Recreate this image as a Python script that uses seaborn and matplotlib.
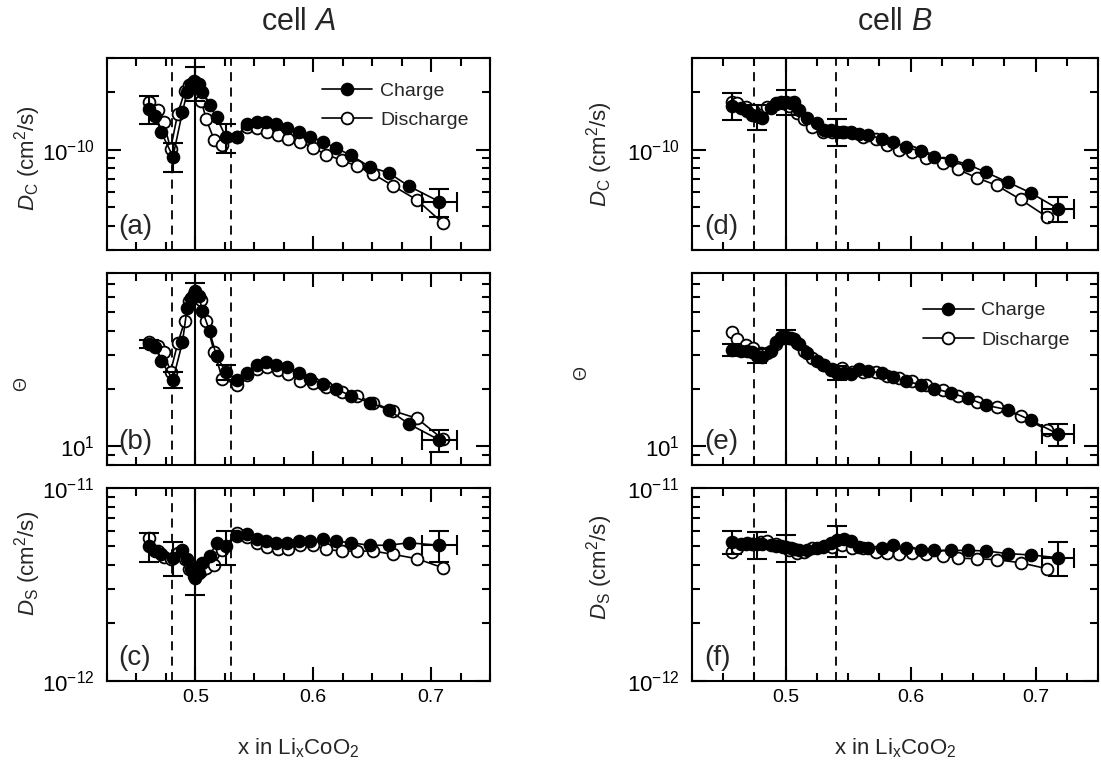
import numpy as np
import matplotlib
matplotlib.use("Agg")
import matplotlib.pyplot as plt
import matplotlib.ticker as mticker
import seaborn as sns

# --- DATA (LixCoO2) ---
# cell A
XA_CH = [0.461, 0.466, 0.471, 0.481, 0.489, 0.493, 0.496, 0.500, 0.503, 0.506,
         0.512, 0.518, 0.526, 0.535, 0.544, 0.552, 0.560, 0.568, 0.578, 0.588,
         0.597, 0.608, 0.619, 0.632, 0.648, 0.664, 0.681, 0.707]
DC_A_CH = [1.63, 1.49, 1.23, 0.92, 1.57, 1.99, 2.19, 2.24, 2.19, 1.99,
           1.70, 1.47, 1.16, 1.17, 1.36, 1.40, 1.40, 1.36, 1.29, 1.24,
           1.17, 1.10, 1.02, 0.935, 0.813, 0.757, 0.646, 0.536]          # x1e-10
TH_A_CH = [34.2, 33.0, 27.8, 22.3, 34.8, 52.8, 59.5, 64.4, 60.7, 50.8,
           40.0, 29.4, 24.4, 22.1, 24.2, 26.7, 27.5, 26.7, 25.9, 24.2,
           22.5, 21.1, 20.0, 18.3, 16.9, 15.5, 13.1, 10.8]
DS_A_CH = [5.00, 4.71, 4.53, 4.35, 4.76, 4.30, 3.80, 3.43, 3.64, 4.10,
           4.44, 5.20, 5.00, 5.64, 5.75, 5.41, 5.31, 5.20, 5.20, 5.31,
           5.31, 5.46, 5.31, 5.20, 5.05, 5.05, 5.20, 5.05]                # x1e-12

XA_DIS = [0.461, 0.468, 0.473, 0.479, 0.485, 0.491, 0.495, 0.499, 0.505, 0.509,
          0.516, 0.523, 0.535, 0.544, 0.552, 0.561, 0.570, 0.579, 0.589, 0.600,
          0.611, 0.624, 0.637, 0.651, 0.668, 0.688, 0.710]
DC_A_DIS = [1.76, 1.61, 1.39, 1.01, 1.54, 2.01, 2.18, 2.27, 1.80, 1.45,
            1.12, 1.06, 1.17, 1.31, 1.29, 1.24, 1.19, 1.14, 1.10, 1.02,
            0.942, 0.881, 0.820, 0.745, 0.646, 0.547, 0.414]
TH_A_DIS = [35.0, 33.5, 31.0, 24.5, 34.5, 45.0, 57.0, 62.0, 58.0, 45.0,
            31.0, 22.5, 21.0, 23.5, 25.4, 25.9, 25.1, 23.9, 21.9, 21.3,
            20.5, 19.3, 18.3, 16.9, 15.3, 14.0, 10.9]
DS_A_DIS = [5.52, 4.70, 4.40, 4.30, 4.60, 4.30, 3.80, 3.50, 3.70, 3.85,
            4.00, 4.80, 5.86, 5.60, 5.20, 4.97, 4.84, 4.84, 5.05, 5.05,
            4.81, 4.71, 4.71, 4.71, 4.53, 4.30, 3.86]

# cell B
XB_CH = [0.457, 0.464, 0.469, 0.473, 0.477, 0.481, 0.488, 0.492, 0.496, 0.500,
         0.504, 0.507, 0.511, 0.517, 0.525, 0.531, 0.536, 0.541, 0.547, 0.552,
         0.559, 0.566, 0.577, 0.586, 0.596, 0.608, 0.619, 0.632, 0.646, 0.660,
         0.678, 0.696, 0.718]
DC_B_CH = [1.69, 1.65, 1.58, 1.52, 1.49, 1.46, 1.65, 1.75, 1.76, 1.78,
           1.75, 1.76, 1.61, 1.46, 1.38, 1.27, 1.26, 1.24, 1.24, 1.24,
           1.21, 1.19, 1.14, 1.10, 1.03, 0.98, 0.916, 0.888, 0.836, 0.763,
           0.676, 0.596, 0.492]
TH_B_CH = [31.8, 31.3, 31.5, 30.9, 29.7, 29.1, 31.5, 35.0, 37.0, 37.3,
           36.5, 36.2, 34.2, 30.6, 28.0, 26.5, 25.0, 24.2, 24.1, 23.7,
           25.4, 24.7, 24.1, 23.0, 21.8, 21.0, 20.0, 19.0, 17.8, 16.4,
           15.5, 13.7, 11.6]
DS_B_CH = [5.26, 5.15, 5.20, 5.15, 5.11, 5.10, 5.05, 5.02, 4.99, 4.93,
           4.88, 4.82, 4.78, 4.76, 4.91, 4.99, 5.20, 5.36, 5.47, 5.32,
           4.95, 4.86, 4.86, 5.05, 4.91, 4.80, 4.75, 4.75, 4.75, 4.72,
           4.57, 4.50, 4.35]

XB_DIS = [0.457, 0.461, 0.468, 0.474, 0.480, 0.485, 0.492, 0.498, 0.503, 0.509,
          0.515, 0.521, 0.530, 0.537, 0.545, 0.553, 0.562, 0.572, 0.581, 0.591,
          0.601, 0.612, 0.626, 0.638, 0.653, 0.669, 0.688, 0.709]
DC_B_DIS = [1.78, 1.75, 1.66, 1.60, 1.52, 1.66, 1.73, 1.75, 1.68, 1.55,
            1.44, 1.31, 1.24, 1.23, 1.24, 1.22, 1.17, 1.13, 1.06, 0.99,
            0.97, 0.905, 0.853, 0.788, 0.713, 0.651, 0.55, 0.447]
TH_B_DIS = [39.3, 36.2, 33.9, 32.6, 30.6, 30.6, 34.0, 36.5, 36.5, 34.5,
            31.5, 29.0, 26.4, 25.2, 25.7, 24.5, 24.4, 24.4, 23.4, 22.6,
            21.8, 20.9, 19.7, 18.3, 17.0, 16.0, 14.4, 12.2]
DS_B_DIS = [4.67, 4.86, 5.15, 5.15, 5.25, 5.30, 5.10, 4.95, 4.75, 4.61,
            4.67, 4.86, 4.95, 4.95, 5.05, 4.91, 4.86, 4.67, 4.61, 4.54,
            4.61, 4.54, 4.43, 4.33, 4.30, 4.25, 4.10, 3.82]

# error bars: index into the charge arrays + relative error
ERR_IDX_A = [0, 3, 7, 12, 27]
ERR_A = {"DC": [0.17, 0.17, 0.20, 0.17, 0.17],
         "TH": [0.05, 0.10, 0.10, 0.09, 0.13],
         "DS": [0.17, 0.20, 0.19, 0.20, 0.18]}
ERR_IDX_B = [0, 4, 9, 17, 32]
ERR_B = {"DC": [0.16, 0.15, 0.15, 0.16, 0.15],
         "TH": [0.07, 0.08, 0.08, 0.08, 0.13],
         "DS": [0.14, 0.16, 0.16, 0.18, 0.20]}
XERR_A = 0.015
XERR_B = 0.013

# phase boundaries (dashed) and x = 0.5 (solid)
VLINES_A = [0.480, 0.530]
VLINES_B = [0.475, 0.540]

YLIMS = {"DC": (3e-11, 3e-10), "TH": (8, 80), "DS": (1e-12, 1e-11)}
YMAJOR = {"DC": [1e-10], "TH": [10], "DS": [1e-12, 1e-11]}
SCALE = {"DC": 1e-10, "TH": 1.0, "DS": 1e-12}
YLABELS = {"DC": r"$D_{\rm C}$ (cm$^{2}$/s)", "TH": "Θ", "DS": r"$D_{\rm S}$ (cm$^{2}$/s)"}

sns.set_theme(style="ticks")
plt.rcParams["font.family"] = ["Liberation Sans", "DejaVu Sans"]
plt.rcParams["mathtext.fontset"] = "custom"
plt.rcParams["mathtext.rm"] = "Liberation Sans"
plt.rcParams["mathtext.it"] = "Liberation Sans:italic"
plt.rcParams["axes.unicode_minus"] = False
plt.rcParams["axes.linewidth"] = 1.5
plt.rcParams["axes.edgecolor"] = "black"


def draw_panel(ax, key, xch, ych, xdis, ydis, err_idx, err_rel, xerr, vlines, letter, legend):
    s = SCALE[key]
    ych = np.array(ych) * s
    ydis = np.array(ydis) * s

    for xv in vlines:
        ax.axvline(xv, color="black", lw=1.3, ls=(0, (5, 3.5)), zorder=1)
    ax.axvline(0.5, color="black", lw=1.5, zorder=1)

    sns.lineplot(x=xdis, y=ydis, ax=ax, color="black", lw=1.2, marker="o", markersize=8.5,
                 markerfacecolor="white", markeredgecolor="black", markeredgewidth=1.3,
                 estimator=None, sort=False, label="Discharge", legend=False, zorder=3)
    sns.lineplot(x=xch, y=ych, ax=ax, color="black", lw=1.2, marker="o", markersize=8.5,
                 markerfacecolor="black", markeredgecolor="black", markeredgewidth=1.3,
                 estimator=None, sort=False, label="Charge", legend=False, zorder=4)

    ex = np.array(xch)[err_idx]
    ey = ych[err_idx]
    ee = ey * np.array(err_rel)
    ax.errorbar(ex, ey, yerr=ee, fmt="none", ecolor="black", elinewidth=1.5,
                capsize=7, capthick=1.5, zorder=5)
    ax.errorbar(ex[-1:], ey[-1:], xerr=xerr, fmt="none", ecolor="black", elinewidth=1.5,
                capsize=7, capthick=1.5, zorder=5)

    ax.set_yscale("log")
    ax.set_ylim(*YLIMS[key])
    ax.set_xlim(0.425, 0.75)
    # only decades inside the window, so no stray labels outside the frame
    ax.yaxis.set_major_locator(mticker.FixedLocator(YMAJOR[key]))
    ax.yaxis.set_major_formatter(mticker.LogFormatterSciNotation())
    ax.yaxis.set_minor_locator(mticker.LogLocator(base=10, subs=np.arange(2, 10)))
    ax.yaxis.set_minor_formatter(mticker.NullFormatter())
    ax.xaxis.set_major_locator(mticker.MultipleLocator(0.1))
    ax.xaxis.set_minor_locator(mticker.MultipleLocator(0.025))
    ax.xaxis.set_major_formatter(mticker.FormatStrFormatter("%.1f"))
    ax.tick_params(which="both", direction="in", top=True, right=True, width=1.5, colors="black")
    ax.tick_params(which="major", length=10)
    ax.tick_params(which="minor", length=5.5)
    ax.tick_params(axis="y", which="major", labelsize=16, pad=9)
    ax.tick_params(axis="x", which="major", labelsize=14, pad=6)

    ax.text(0.03, 0.05, f"({letter})", transform=ax.transAxes, fontsize=20,
            ha="left", va="bottom")
    ax.set_ylabel(YLABELS[key], fontsize=16 if key != "TH" else 13)
    if legend is not None:
        h, l = ax.get_legend_handles_labels()
        ax.legend(h[::-1], l[::-1], loc="upper left", bbox_to_anchor=legend, frameon=False,
                  fontsize=14, handlelength=2.6, handletextpad=0.4, labelspacing=0.62,
                  borderpad=0, borderaxespad=0)


fig = plt.figure(figsize=(11.01, 7.75), dpi=100)
W, H = 1101, 775
rows = [(58, 250), (273, 465), (488, 681)]
cols = [(107, 490), (692, 1098)]
axes = [[fig.add_axes([c[0] / W, 1 - r[1] / H, (c[1] - c[0]) / W, (r[1] - r[0]) / H])
         for r in rows] for c in cols]

cells = [
    dict(xch=XA_CH, xdis=XA_DIS, ch={"DC": DC_A_CH, "TH": TH_A_CH, "DS": DS_A_CH},
         dis={"DC": DC_A_DIS, "TH": TH_A_DIS, "DS": DS_A_DIS}, idx=ERR_IDX_A, err=ERR_A,
         xerr=XERR_A, vl=VLINES_A, letters="abc", leg={"DC": (0.561, 0.875)}, title="cell $A$",
         ylab_x={"DC": -0.167, "TH": -0.20, "DS": -0.167}, ylab_y={"DC": 0.48, "TH": 0.42, "DS": 0.61}),
    dict(xch=XB_CH, xdis=XB_DIS, ch={"DC": DC_B_CH, "TH": TH_B_CH, "DS": DS_B_CH},
         dis={"DC": DC_B_DIS, "TH": TH_B_DIS, "DS": DS_B_DIS}, idx=ERR_IDX_B, err=ERR_B,
         xerr=XERR_B, vl=VLINES_B, letters="def", leg={"TH": (0.569, 0.85)}, title="cell $B$",
         ylab_x={"DC": -0.19, "TH": -0.251, "DS": -0.19}, ylab_y={"DC": 0.5, "TH": 0.48, "DS": 0.59}),
]

for col, cell in zip(axes, cells):
    for i, (ax, key) in enumerate(zip(col, ["DC", "TH", "DS"])):
        draw_panel(ax, key, cell["xch"], cell["ch"][key], cell["xdis"], cell["dis"][key],
                   cell["idx"], cell["err"][key], cell["xerr"], cell["vl"],
                   cell["letters"][i], cell["leg"].get(key))
        ax.yaxis.set_label_coords(cell["ylab_x"][key], cell["ylab_y"][key])
        if i < 2:
            ax.tick_params(labelbottom=False)
        else:
            ax.set_xlabel(r"x in Li$_{\rm x}$CoO$_{\rm 2}$", fontsize=16, labelpad=22)
    col[0].set_title(cell["title"], fontsize=22, pad=20)

fig.savefig("out.png", dpi=100)
